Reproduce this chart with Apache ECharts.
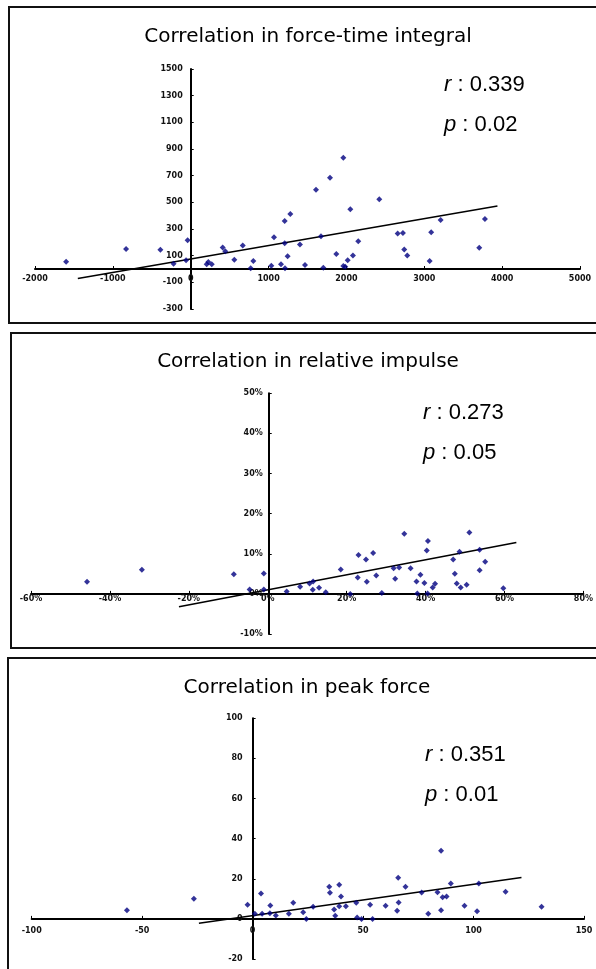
<!DOCTYPE html>
<html>
<head>
<meta charset="utf-8">
<script src="https://cdn.jsdelivr.net/npm/echarts@6/dist/echarts.min.js"></script>
<style>
  html, body { margin: 0; padding: 0; background: #fff; }
  #main { width: 596px; height: 969px; }
</style>
</head>
<body>
<div id="main"></div>
<script>
// panel titles and stats
var titles = ['Correlation in force-time integral', 'Correlation in relative impulse', 'Correlation in peak force'];
var rValues = ['0.339', '0.273', '0.351'];
var pValues = ['0.02', '0.05', '0.01'];

// force-time integral
var ftiX = [-1600, -830, -390, -220, -60, -40, 205, 226, 270, 411, 444, 560, 668, 770, 804, 1035, 1070, 1160, 1207, 1207,
    1211, 1245, 1279, 1403, 1468, 1609, 1673, 1703, 1789, 1870, 1960, 1960, 1985, 2016, 2050, 2084, 2152, 2422, 2658, 2726,
    2743, 2781, 3069, 3089, 3210, 3706, 3779];
var ftiY = [55, 150, 145, 40, 65, 215, 35, 52, 35, 162, 134, 69, 177, 5, 60, 25, 238, 35, 360, 194,
    5, 95, 412, 184, 30, 594, 246, 10, 685, 112, 834, 22, 17, 65, 449, 102, 209, 524, 266, 270,
    147, 102, 60, 276, 367, 159, 375];
var ftiTrendX = [-1450, 3940];
var ftiTrendY = [-72, 472];

// relative impulse (%)
var riX = [-45.8, -31.9, -8.6, -4.6, -1.0, -1.0, 4.8, 8.2, 10.6, 11.5, 11.4, 13.0, 14.7, 18.5, 20.9, 22.8, 23.0, 24.9, 25.1, 26.7,
    27.5, 28.9, 31.9, 32.3, 33.3, 34.6, 36.2, 37.7, 37.9, 38.7, 39.7, 40.3, 40.6, 40.5, 41.8, 42.4, 47.0, 47.4, 47.9, 48.6,
    48.9, 50.4, 51.1, 53.7, 53.7, 55.1, 59.7];
var riY = [3.0, 6.0, 4.9, 1.1, 1.1, 5.1, 0.6, 1.8, 2.6, 3.1, 1.0, 1.5, 0.4, 6.1, 0.0, 4.1, 9.7, 8.6, 3.0, 10.2,
    4.6, 0.2, 6.4, 3.8, 6.6, 15.0, 6.4, 3.1, 0.1, 4.8, 2.7, 10.8, 13.2, 0.1, 1.6, 2.5, 8.6, 5.0, 2.6, 10.5,
    1.6, 2.3, 15.3, 11.0, 5.9, 8.0, 1.4];
var riTrendX = [-22.5, 63];
var riTrendY = [-3.2, 12.8];

// peak force
var pfX = [-56.9, -26.6, -2.3, 1.0, 3.8, 4.3, 8.0, 7.8, 10.5, 16.4, 18.4, 22.9, 24.3, 27.4, 34.7, 35.0, 36.9, 37.4, 39.2, 39.2,
    40.0, 42.2, 46.9, 47.3, 49.3, 53.2, 54.3, 60.2, 65.4, 65.9, 66.1, 69.2, 76.5, 79.5, 83.7, 85.3, 85.3, 86.0, 87.8, 89.7,
    95.9, 101.6, 102.4, 114.5, 130.8];
var pfY = [4.3, 10.0, 7.0, 2.5, 12.7, 2.5, 6.7, 2.8, 1.7, 2.5, 8.0, 3.3, 0.0, 6.0, 16.0, 13.0, 4.7, 1.5, 17.0, 6.3,
    11.2, 6.3, 8.0, 0.7, 0.0, 7.0, 0.0, 6.5, 4.0, 20.5, 8.2, 16.0, 13.2, 2.5, 13.3, 34.0, 4.3, 10.8, 11.2, 17.7,
    6.5, 3.8, 17.7, 13.5, 6.0];
var pfTrendX = [-24.3, 121.7];
var pfTrendY = [-2.2, 20.6];

// axis ranges [min, max, interval]
var xRanges = [[-2000, 5000, 1000], [-60, 80, 20], [-100, 150, 50]];
var yRanges = [[-300, 1500, 200], [-10, 50, 10], [-20, 100, 20]];

function zip(xs, ys) {
    var out = [];
    for (var i = 0; i < xs.length; i++) {
        out.push([xs[i], ys[i]]);
    }
    return out;
}

function initChart() {
    var chart = echarts.init(document.getElementById('main'), null, {renderer: 'canvas'});

    // panel layout
    var grids = [
        {left: 35, top: 69, width: 545, height: 240},
        {left: 31, top: 393.3, width: 554.7, height: 240.7},
        {left: 31.7, top: 718.3, width: 552.3, height: 240.7}
    ];
    var xMargins = [6, 1, 8];
    var yMargins = [8, 6, 10];
    var suffix = ['', '%', ''];
    var points = [zip(ftiX, ftiY), zip(riX, riY), zip(pfX, pfY)];
    var trends = [zip(ftiTrendX, ftiTrendY), zip(riTrendX, riTrendY), zip(pfTrendX, pfTrendY)];

    var labelStyle = {
        fontSize: 8,
        fontWeight: 'bold',
        fontFamily: 'DejaVu Sans',
        color: '#111'
    };

    function makeFmt(s) {
        return function (v) { return String(v) + s; };
    }

    var xAxes = [], yAxes = [], series = [];
    for (var i = 0; i < 3; i++) {
        // axes cross at zero: shift them from the grid edge to the zero line
        var xr = xRanges[i], yr = yRanges[i], g = grids[i];
        var xOff = -(0 - yr[0]) / (yr[1] - yr[0]) * g.height;
        var yOff = -(0 - xr[0]) / (xr[1] - xr[0]) * g.width;
        xAxes.push({
            gridIndex: i,
            type: 'value',
            position: 'bottom',
            offset: xOff,
            min: xr[0],
            max: xr[1],
            interval: xr[2],
            axisLine: {onZero: false, lineStyle: {color: '#000', width: 2}},
            axisTick: {show: true, inside: true, length: 3, lineStyle: {color: '#000', width: 1}},
            axisLabel: Object.assign({margin: xMargins[i], formatter: makeFmt(suffix[i])}, labelStyle),
            splitLine: {show: false}
        });
        yAxes.push({
            gridIndex: i,
            type: 'value',
            position: 'left',
            offset: yOff,
            min: yr[0],
            max: yr[1],
            interval: yr[2],
            axisLine: {show: true, onZero: false, lineStyle: {color: '#000', width: 2}},
            axisTick: {show: true, inside: true, length: 3, lineStyle: {color: '#000', width: 1}},
            axisLabel: Object.assign({margin: yMargins[i], formatter: makeFmt(suffix[i])}, labelStyle),
            splitLine: {show: false}
        });
        series.push({
            type: 'line',
            xAxisIndex: i,
            yAxisIndex: i,
            data: trends[i],
            symbol: 'none',
            lineStyle: {color: '#000', width: 1.5},
            z: 2
        });
        series.push({
            type: 'scatter',
            xAxisIndex: i,
            yAxisIndex: i,
            data: points[i],
            symbol: 'diamond',
            symbolSize: 6,
            itemStyle: {color: '#00007f'},
            z: 3
        });
    }

    // frames, titles and r / p text
    var frames = [[9, 7, 316], [11, 333, 315], [8, 658, 330]];
    var titleY = [37, 362, 688];
    var titleX = [308, 308, 307];
    var statX = [444, 423, 425];
    var statY = [85, 413, 755];
    var graphics = [];
    var rich = {
        i: {fontStyle: 'italic', fontSize: 22, fontFamily: 'Liberation Sans', fill: '#000'},
        n: {fontSize: 22, fontFamily: 'Liberation Sans', fill: '#000'}
    };
    for (var k = 0; k < 3; k++) {
        graphics.push({
            type: 'rect',
            shape: {x: frames[k][0], y: frames[k][1], width: 620, height: frames[k][2]},
            style: {fill: 'none', stroke: '#111', lineWidth: 2},
            silent: true
        });
        graphics.push({
            type: 'text',
            x: titleX[k],
            y: titleY[k],
            style: {
                text: titles[k],
                font: '20px "DejaVu Sans"',
                fill: '#000',
                align: 'center',
                verticalAlign: 'middle'
            }
        });
        graphics.push({
            type: 'text',
            x: statX[k],
            y: statY[k],
            style: {
                text: '{i|r}{n| : ' + rValues[k] + '}',
                rich: rich,
                align: 'left',
                verticalAlign: 'middle'
            }
        });
        graphics.push({
            type: 'text',
            x: statX[k],
            y: statY[k] + 40,
            style: {
                text: '{i|p}{n| : ' + pValues[k] + '}',
                rich: rich,
                align: 'left',
                verticalAlign: 'middle'
            }
        });
    }

    var option = {
        animation: false,
        backgroundColor: '#fff',
        grid: grids,
        xAxis: xAxes,
        yAxis: yAxes,
        series: series,
        graphic: graphics
    };
    chart.setOption(option);
}

initChart();
</script>
</body>
</html>
